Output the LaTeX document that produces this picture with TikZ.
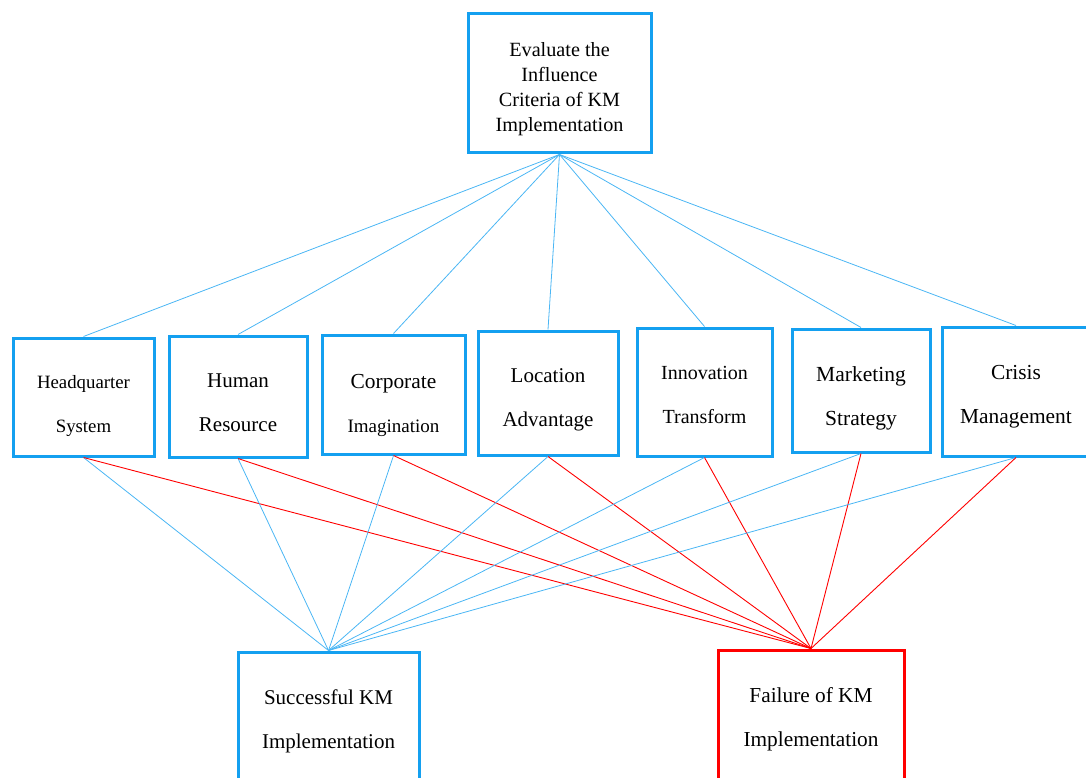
\documentclass[tikz,border=0pt]{standalone}
\usepackage{fontspec}
\setmainfont{Liberation Serif}
\usetikzlibrary{positioning}
\definecolor{BoxBlue}{HTML}{14A0F0}
\definecolor{LinkBlue}{HTML}{4AB6F4}
\definecolor{FailRed}{HTML}{FF0000}

\tikzset{
  critbox/.style={
    draw=BoxBlue,
    fill=white,
    line width=3pt,
    inner sep=0pt
  },
  crittext/.style={
    inner sep=0pt,
    align=center,
    yshift=-2.5pt,
    font=\fontsize{21}{44}\selectfont
  },
  goodlink/.style={
    LinkBlue,
    line width=.8pt
  },
  badlink/.style={
    FailRed,
    line width=.9pt
  }
}

\begin{document}
\begin{tikzpicture}[
  x=1pt,
  y=-1pt
]

\useasboundingbox (0,0) rectangle (1086,778);

\node[
  critbox,
  minimum width=183pt,
  minimum height=139pt
] (eval) at (559.5,83.5) {};
\node[
  crittext,
  font=\fontsize{20.2}{25}\selectfont
] (eval-t) at (559.5,86.5)
{Evaluate the\\Influence\\Criteria of KM\\Implementation};

% influence criteria
\node[
  critbox,
  minimum width=141pt,
  minimum height=118pt
] (hq) at (83.5,397) {};
\node[
  crittext,
  font=\fontsize{18.8}{44}\selectfont
] (hq-t) at (83.5,404)
{Headquarter\\System};

\node[
  critbox,
  minimum width=138pt,
  minimum height=121pt
] (hr) at (238,396.5) {};
\node[crittext] (hr-t) at (238,400.5)
{Human\\Resource};

\node[
  critbox,
  minimum width=143pt,
  minimum height=119pt
] (ci) at (393.5,394.5) {};
\node[
  crittext,
  font=\fontsize{21.4}{44}\selectfont
] (ci-t) at (393.5,402.5)
{Corporate\\\fontsize{19}{44}\selectfont Imagination};

\node[
  critbox,
  minimum width=140pt,
  minimum height=124pt
] (la) at (548,393) {};
\node[crittext] (la-t) at (548,397.5)
{Location\\Advantage};

\node[
  critbox,
  minimum width=135pt,
  minimum height=128pt
] (it) at (704.5,392) {};
\node[
  crittext,
  font=\fontsize{20}{44}\selectfont
] (it-t) at (704.5,392)
{Innovation\\Transform};

\node[
  critbox,
  minimum width=138pt,
  minimum height=123pt
] (ms) at (861,390.5) {};
\node[
  crittext,
  font=\fontsize{21.5}{44}\selectfont
] (ms-t) at (861,396)
{Marketing\\Strategy};

\node[
  critbox,
  minimum width=148pt,
  minimum height=129pt
] (cm) at (1016,391.5) {};
\node[
  crittext,
  font=\fontsize{21.4}{44}\selectfont
] (cm-t) at (1016,394)
{Crisis\\Management};

% outcomes
\node[
  critbox,
  minimum width=181pt,
  minimum height=134pt
] (succ) at (328.5,719) {};
\node[crittext] (succ-t) at (328.5,719)
{Successful KM\\Implementation};

\node[
  critbox,
  draw=FailRed,
  minimum width=186pt,
  minimum height=134pt
] (fail) at (811,717) {};
\node[
  crittext,
  font=\fontsize{21.3}{44}\selectfont
] (fail-t) at (811,717)
{Failure of KM\\Implementation};

\foreach \n in {hq,hr,ci,la,it,ms,cm}{
  \draw[goodlink] (eval.south) -- (\n.north);
  \draw[goodlink] (\n.south) -- (succ.north);
  \draw[badlink] (\n.south) -- (fail.north);
}

\end{tikzpicture}
\end{document}
